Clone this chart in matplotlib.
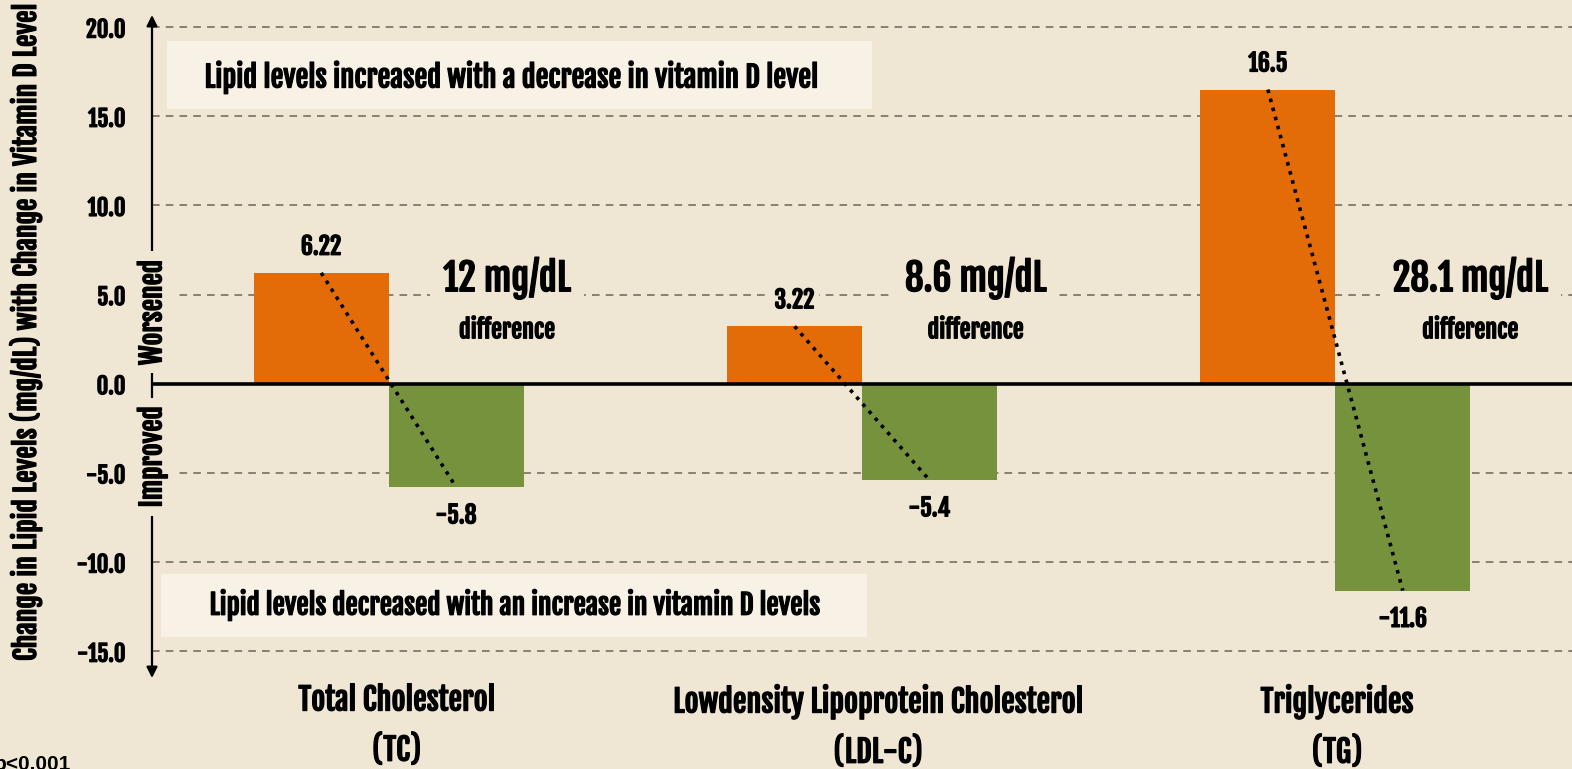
import matplotlib
matplotlib.use("Agg")
import matplotlib.pyplot as plt
import matplotlib.patheffects as pe
from matplotlib.patches import Rectangle
import numpy as np

# data
categories = ["Total Cholesterol\n(TC)", "Lowdensity Lipoprotein Cholesterol\n(LDL-C)", "Triglycerides\n(TG)"]
worsened = [6.22, 3.22, 16.5]      # lipid change with a decrease in vitamin D
improved = [-5.8, -5.4, -11.6]     # lipid change with an increase in vitamin D
differences = ["12 mg/dL", "8.6 mg/dL", "28.1 mg/dL"]
worsened_labels = ["6.22", "3.22", "16.5"]
improved_labels = ["-5.8", "-5.4", "-11.6"]
yticks = [-15, -10, -5, 0, 5, 10, 15, 20]

# style
bg = "#f0e6d4"
boxcol = "#f7f1e6"
orange = "#e36c09"
green = "#76923c"
gridcol = "#6b6456"
narrow = ["Fjalla One", "Oswald", "DejaVu Sans"]
heavy = [pe.withStroke(linewidth=0.9, foreground="black")]  # fake a heavier weight

plt.rcParams["font.family"] = narrow
plt.rcParams["font.weight"] = "bold"
plt.rcParams["axes.labelweight"] = "bold"

fig = plt.figure(figsize=(15.72, 7.69), dpi=100)
fig.patch.set_facecolor(bg)
ax = fig.add_axes([152 / 1572, 91 / 769, 1 - 152 / 1572, 663 / 769])
ax.set_facecolor(bg)

x = np.arange(len(categories))
w = 0.285
vals, bigs, diffs = [], [], []

ax.bar(x - w / 2, worsened, width=w, color=orange, zorder=2)
ax.bar(x + w / 2, improved, width=w, color=green, zorder=2)
ax.axhline(0, color="black", lw=2.6, zorder=3)

# dotted connector from top of orange to bottom of green
for i in range(len(x)):
    ax.plot([x[i] - w / 2, x[i] + w / 2], [worsened[i], improved[i]],
            linestyle=(0, (1, 1.6)), color="black", lw=2.6, zorder=4)
    vals.append(ax.annotate(worsened_labels[i], (x[i] - w / 2, worsened[i]), xytext=(0, 13),
                            textcoords="offset points", ha="center", va="baseline", fontsize=17,
                            zorder=5, bbox=dict(boxstyle="square,pad=0.2", fc=bg, ec="none")))
    vals.append(ax.annotate(improved_labels[i], (x[i] + w / 2, improved[i]), xytext=(0, -11),
                            textcoords="offset points", ha="center", va="top", fontsize=17, zorder=5))

# difference call-outs
diff_dx = [0.25, 0.24, 0.285]
for i in range(len(x)):
    bigs.append(ax.text(x[i] + diff_dx[i], 5.9, differences[i], ha="center", va="center", fontsize=28,
                        zorder=5, bbox=dict(boxstyle="square,pad=0.35", fc=bg, ec="none")))
    diffs.append(ax.text(x[i] + diff_dx[i], 3.0, "difference", ha="center", va="center",
                         fontsize=16, zorder=5))

# note boxes
ax.add_patch(Rectangle((-0.469, 15.42), 1.49, 3.82, fc=boxcol, ec="none", zorder=1.5))
t1 = ax.text(0.26, 17.2, "Lipid levels increased with a decrease in vitamin D level",
             ha="center", va="center", fontsize=15, zorder=5)
ax.add_patch(Rectangle((-0.48, -14.19), 1.49, 3.53, fc=boxcol, ec="none", zorder=1.5))
t2 = ax.text(0.266, -12.45, "Lipid levels decreased with an increase in vitamin D levels",
             ha="center", va="center", fontsize=15, zorder=5)

ax.set_xlim(-0.5, 2.5)
ax.set_ylim(-16.5, 20.68)
ax.set_yticks(yticks)
ax.set_yticklabels(["%.1f" % v for v in yticks], fontsize=14)
cat_dx = [0.017, 0.034, 0.004]
ax.set_xticks(x + np.array(cat_dx))
ax.set_xticklabels(categories, fontsize=18, linespacing=1.6)
ax.tick_params(axis="y", length=0, pad=19)
ax.tick_params(axis="x", length=0, pad=4)
ax.yaxis.grid(True, linestyle=(0, (5, 4)), color=gridcol, lw=1.1)
ax.set_axisbelow(True)
for s in ax.spines.values():
    s.set_visible(False)

ylab = ax.set_ylabel("Change in Lipid Levels (mg/dL) with Change in Vitamin D Level", fontsize=15)
ax.yaxis.set_label_coords(-0.0775, 0.522)

# vertical double arrow with worsened / improved labels
ax.annotate("", xy=(-0.5, 20.68), xytext=(-0.5, -16.5), xycoords="data",
            arrowprops=dict(arrowstyle="<|-|>", color="black", lw=1.6, mutation_scale=16,
                            shrinkA=0, shrinkB=0), annotation_clip=False, zorder=6)
tw = ax.text(-0.5, 4.0, "Worsened", rotation=90, ha="center", va="center", fontsize=16, zorder=7,
             bbox=dict(boxstyle="square,pad=0.3", fc=bg, ec="none"), clip_on=False)
ti = ax.text(-0.5, -4.1, "Improved", rotation=90, ha="center", va="center", fontsize=16, zorder=7,
             bbox=dict(boxstyle="square,pad=0.3", fc=bg, ec="none"), clip_on=False)

fig.text(-0.004, 14 / 769, "p<0.001", ha="left", va="top", fontsize=15,
         family="Liberation Sans", fontweight="bold")

# scale the condensed font so the text widths match the reference
fig.canvas.draw()
r = fig.canvas.get_renderer()

def scale_of(t, target, vertical=False):
    bb = t.get_window_extent(r)
    return target / (bb.height if vertical else bb.width)

def rescale(texts, k):
    for t in texts:
        t.set_fontsize(t.get_fontsize() * k)

rescale(vals, scale_of(vals[0], 40))
rescale(bigs, scale_of(bigs[2], 155))
rescale(diffs, scale_of(diffs[0], 96))
for t, tgt in ((t1, 616), (t2, 613)):
    rescale([t], scale_of(t, tgt))
ax.tick_params(axis="y", labelsize=14 * scale_of(ax.get_yticklabels()[-1], 40))
ax.tick_params(axis="x", labelsize=18 * scale_of(ax.get_xticklabels()[1], 410))
rescale([ylab], scale_of(ylab, 660, True))
rescale([tw, ti], scale_of(tw, 105, True))

for t in vals + bigs + diffs + [t1, t2, ylab, tw, ti] + ax.get_xticklabels() + ax.get_yticklabels():
    t.set_path_effects(heavy)

fig.savefig("out.png", dpi=100, facecolor=bg)
